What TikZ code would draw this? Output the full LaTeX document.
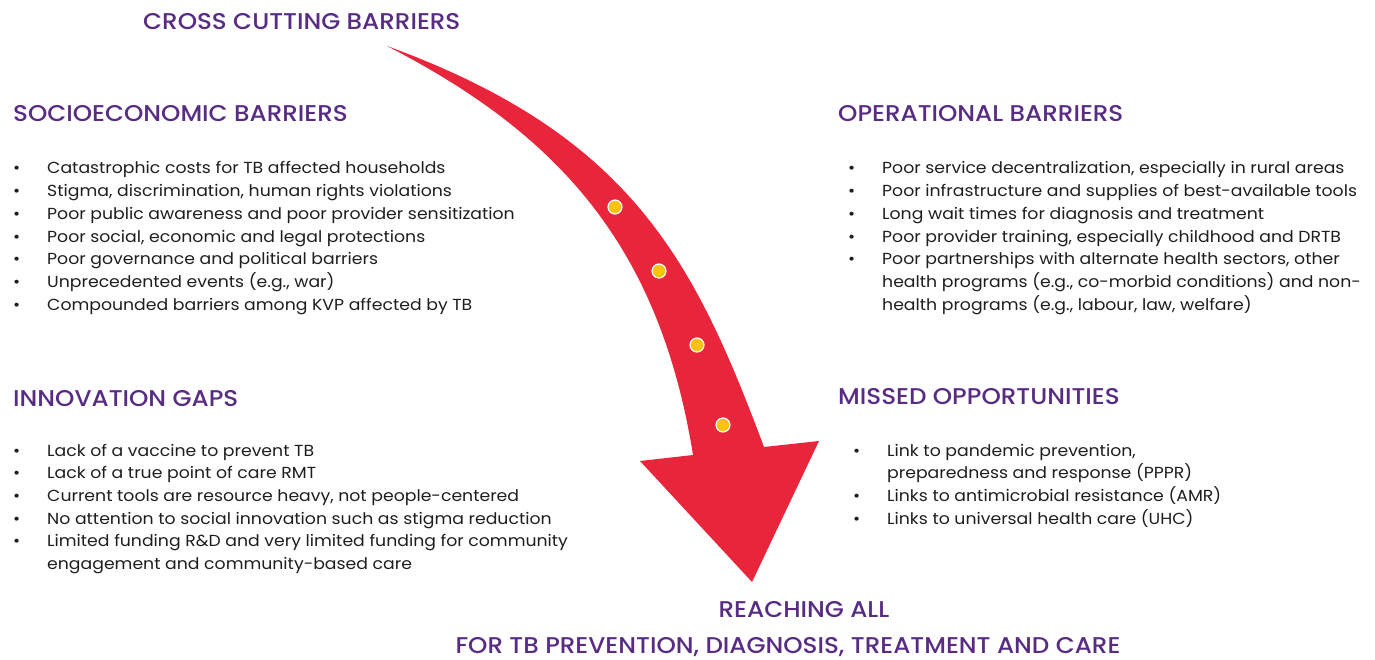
\documentclass[tikz,border=0pt]{standalone}
\usepackage{fontspec}
\setmainfont{Poppins}[FakeStretch=1.08]
\newfontfamily\headfont{Poppins Medium}[FakeStretch=1.08]
\usepackage{xcolor}
\usetikzlibrary{positioning}

\definecolor{barpurple}{HTML}{582C83}
\definecolor{arrowred}{HTML}{E8253A}
\definecolor{dotyellow}{HTML}{FFC20E}
\definecolor{bodygray}{HTML}{1E1E1E}

% one bullet row, and a wrapped continuation row
\newcommand{\bitem}[1]{\textbullet & #1\\}
\newcommand{\bcont}[1]{& #1\\}
\newenvironment{blist}{\begin{tabular}[t]{@{}p{34pt}@{}l@{}}}{\end{tabular}}

\begin{document}
\begin{tikzpicture}[x=1pt, y=-1pt,
    heading/.style={anchor=base west, inner sep=0pt, text=barpurple, font=\headfont\fontsize{22.8}{27}\selectfont},
    footline/.style={anchor=base, inner sep=0pt, text=barpurple, font=\headfont\fontsize{22.8}{27}\selectfont},
    listbox/.style={anchor=base west, inner sep=0pt, text=bodygray, font=\fontsize{16}{22.7}\selectfont},
    stopdot/.style={circle, fill=dotyellow, draw=white, line width=1.2pt, minimum size=14pt, inner sep=0pt}]
\useasboundingbox (0,0) rectangle (1375,660);

% the big curved arrow
\fill[arrowred] (387,46) .. controls (631,135) and (694,260) .. (764,447)
    -- (819,441) -- (752,582) -- (640,461) -- (693,455)
    .. controls (659,243) and (556,133) .. (387,46) -- cycle;
\foreach \x/\y [count=\i] in {615/207, 659/271, 697/345, 723/425}
    \node[stopdot] (dot\i) at (\x,\y) {};

\node[heading] (cross) at (143,30) {CROSS CUTTING BARRIERS};

\node[heading] (socio) at (13,122) {SOCIOECONOMIC BARRIERS};
\node[listbox] (socio list) at (13,174) {\begin{blist}
    \bitem{Catastrophic costs for TB affected households}
    \bitem{Stigma, discrimination, human rights violations}
    \bitem{Poor public awareness and poor provider sensitization}
    \bitem{Poor social, economic and legal protections}
    \bitem{Poor governance and political barriers}
    \bitem{Unprecedented events (e.g., war)}
    \bitem{Compounded barriers among KVP affected by TB}
\end{blist}};

\node[heading] (oper) at (838,122) {OPERATIONAL BARRIERS};
\node[listbox] (oper list) at (848,174) {\begin{blist}
    \bitem{Poor service decentralization, especially in rural areas}
    \bitem{Poor infrastructure and supplies of best-available tools}
    \bitem{Long wait times for diagnosis and treatment}
    \bitem{Poor provider training, especially childhood and DRTB}
    \bitem{Poor partnerships with alternate health sectors, other}
    \bcont{health programs (e.g., co-morbid conditions) and non-}
    \bcont{health programs (e.g., labour, law, welfare)}
\end{blist}};

\node[heading] (innov) at (13,406) {INNOVATION GAPS};
\node[listbox] (innov list) at (13,456) {\begin{blist}
    \bitem{Lack of a vaccine to prevent TB}
    \bitem{Lack of a true point of care RMT}
    \bitem{Current tools are resource heavy, not people-centered}
    \bitem{No attention to social innovation such as stigma reduction}
    \bitem{Limited funding R\&D and very limited funding for community}
    \bcont{engagement and community-based care}
\end{blist}};

\node[heading] (missed) at (838,404) {MISSED OPPORTUNITIES};
\node[listbox] (missed list) at (853,456) {\begin{blist}
    \bitem{Link to pandemic prevention,}
    \bcont{preparedness and response (PPPR)}
    \bitem{Links to antimicrobial resistance (AMR)}
    \bitem{Links to universal health care (UHC)}
\end{blist}};

\node[footline] (reach) at (804,617) {REACHING ALL};
\node[footline] (goal) at (788,653) {FOR TB PREVENTION, DIAGNOSIS, TREATMENT AND CARE};
\end{tikzpicture}
\end{document}
